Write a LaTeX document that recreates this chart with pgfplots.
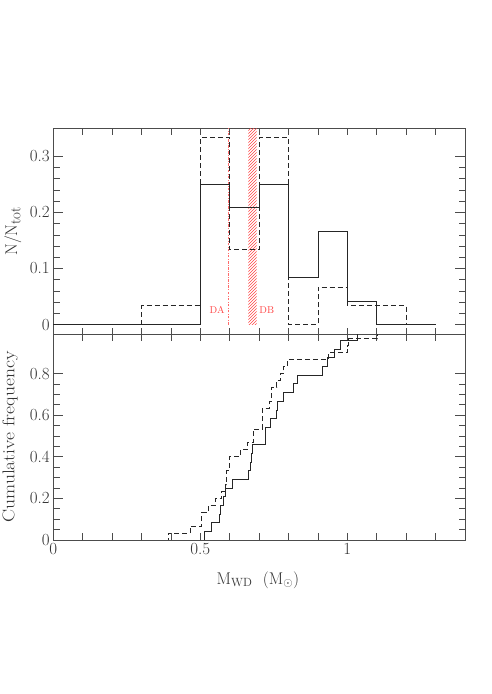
\documentclass[border=0pt]{standalone}
\usepackage{pgfplots}
\pgfplotsset{compat=1.18}
\usetikzlibrary{patterns}
\definecolor{dared}{RGB}{255,70,70}
\newcommand{\lblfont}{\fontsize{17}{20}\selectfont}
\begin{document}
\begin{tikzpicture}
\path[use as bounding box] (0,0) rectangle (491pt,694pt);
\pgfplotsset{
  myaxis/.style={
    scale only axis, width=411.7pt, height=206pt,
    xmin=0, xmax=1.4,
    axis line style={black!70, line width=0.6pt},
    tick style={black!70, line width=0.6pt},
    major tick length=10pt, minor tick length=6.5pt,
    xtick={0,0.5,1},
    minor xtick={0.1,0.2,0.3,0.4,0.5,0.6,0.7,0.8,0.9,1.0,1.1,1.2,1.3},
    major x tick style={draw=none},
    tick label style={font=\lblfont, text=black!80},
    /pgf/number format/assume math mode=true,
  }
}
% ---------------- upper panel: histogram ----------------
\begin{axis}[myaxis, at={(53.3pt,359.7pt)}, anchor=south west,
  ymin=-0.0173, ymax=0.35,
  ytick={0,0.1,0.2,0.3}, minor y tick num=4,
  xticklabels={},
  ylabel={N/N\raisebox{-0.45ex}{\fontsize{15}{17}\selectfont tot}},
  every axis y label/.style={at={(axis description cs:-0.098,0.5)}, rotate=90, anchor=center, font=\lblfont, text=black!80},
]
\addplot[draw=none, pattern=north east lines, pattern color=dared] coordinates {(0.663,0) (0.663,0.35) (0.691,0.35) (0.691,0)} -- cycle;
\addplot[dared!80, line width=0.6pt, dash pattern=on 2.5pt off 1.5pt on 0.6pt off 1.5pt] coordinates {(0.595,0) (0.595,0.35)};
\node[text=dared, font=\fontsize{10}{12}\selectfont] at (axis cs:0.557,0.0255) {DA};
\node[text=dared, font=\fontsize{10}{12}\selectfont] at (axis cs:0.726,0.0255) {DB};
\addplot[const plot, black!85, line width=0.9pt, dash pattern=on 5pt off 3pt] coordinates {
 (0,0) (0.3,0.0333) (0.5,0.3333) (0.6,0.1333) (0.7,0.3333) (0.8,0) (0.9,0.0667) (1.0,0.0333) (1.2,0) (1.3,0)};
\addplot[const plot, black!85, line width=0.9pt] coordinates {
 (0,0) (0.5,0.25) (0.6,0.2083) (0.7,0.25) (0.8,0.0833) (0.9,0.1667) (1.0,0.0417) (1.1,0) (1.3,0)};
\end{axis}
% ---------------- lower panel: cumulative ----------------
\begin{axis}[myaxis, at={(53.3pt,154pt)}, anchor=south west,
  ymin=0, ymax=0.99,
  ytick={0,0.2,0.4,0.6,0.8}, minor y tick num=3,
  ylabel={\scalebox{1.15}[1]{Cumulative frequency}},
  every axis y label/.style={at={(axis description cs:-0.105,0.5)}, rotate=90, anchor=center, font=\lblfont, text=black!80},
  xlabel={M\textsubscript{WD}\ \ (M\textsubscript{$\odot$})},
  every axis x label/.style={at={(axis description cs:0.497,-0.194)}, anchor=center, font=\lblfont, text=black!80},
]
\addplot[const plot, black!85, line width=0.9pt, dash pattern=on 5pt off 3pt] coordinates {
 (0,0) (0.390,0.0333) (0.466,0.0667) (0.505,0.1333) (0.528,0.1667) (0.551,0.2000)
 (0.573,0.2333) (0.585,0.2667) (0.590,0.3333) (0.598,0.4000) (0.636,0.4333)
 (0.659,0.4667) (0.680,0.5333) (0.711,0.6333) (0.736,0.6667) (0.742,0.7333)
 (0.760,0.7667) (0.772,0.8000) (0.783,0.8333) (0.795,0.8667) (0.935,0.9000)
 (1.000,0.9333) (1.003,0.9667) (1.101,1.0000) (1.4,1.0)};
\addplot[const plot, black!85, line width=0.9pt] coordinates {
 (0,0) (0.514,0.0417) (0.537,0.0833) (0.564,0.1250) (0.570,0.1667) (0.579,0.2083)
 (0.587,0.2500) (0.610,0.2917) (0.662,0.3333) (0.670,0.3750) (0.674,0.4167)
 (0.677,0.4583) (0.721,0.5000) (0.722,0.5417) (0.740,0.5833) (0.760,0.6250)
 (0.761,0.6667) (0.784,0.7083) (0.816,0.7500) (0.830,0.7917) (0.915,0.8333)
 (0.932,0.8750) (0.957,0.9167) (0.976,0.9583) (1.033,1.0000) (1.4,1.0)};
\end{axis}
\end{tikzpicture}
\end{document}
